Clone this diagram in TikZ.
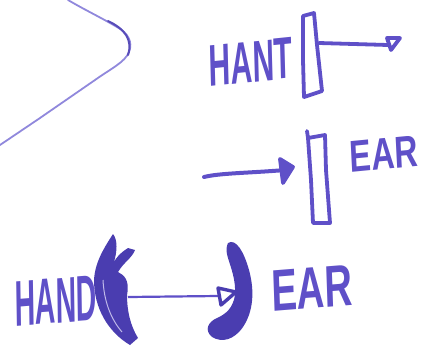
\documentclass[tikz,border=0pt]{standalone}
\usepackage{fontspec}
\setmainfont{Liberation Sans}
\definecolor{ink}{HTML}{5F50C8}
\definecolor{darkink}{HTML}{4A3DB0}
\definecolor{thinink}{HTML}{9088DC}
\tikzset{
  pen/.style={draw=ink,line width=3.8pt,line cap=round,line join=round},
  blob/.style={draw=darkink,fill=darkink,line width=2pt,line join=round,line cap=round},
  hand/.style={text=ink,inner sep=0pt,font=\fontsize{60}{60}\selectfont\bfseries}
}
\begin{document}
\begin{tikzpicture}[x=1pt,y=-1pt]
\useasboundingbox (0,0) rectangle (442,349);
% large thin curve
\draw[thinink,line width=1.8pt,line cap=round] (68,0) .. controls (85,10) and (100,17) .. (117,27)
  .. controls (128,33) and (133,42) .. (129,52) .. controls (125,62) and (112,68) .. (95,80)
  -- (40,118) -- (0,145);
\draw[darkink!80!thinink,line width=2pt,line cap=round] (108,21) .. controls (125,29) and (133,40) .. (128,55);
% top: HANT with rectangle and arrow
\node[hand,xscale=.5,yscale=.98,rotate=3] (hant) at (251,62) {HANT};
\draw[pen] (303,16) -- (314,13) -- (317,45) -- (322,91) -- (304,97) -- (303,60) -- cycle;
\coordinate (a1s) at (319,43);
\coordinate (a1e) at (388,45);
\draw[pen] (a1s) -- (a1e);
\coordinate (h1a) at (387,38); \coordinate (h1b) at (400,38); \coordinate (h1c) at (391,50);
\draw[pen,fill=white] (h1a) -- (h1b) -- (h1c) -- cycle;
% middle
\coordinate (a2s) at (204,177);
\coordinate (a2e) at (285,170);
\draw[draw=ink,line width=4pt,line cap=round] (a2s) .. controls (220,173) and (250,173) .. (a2e);
\coordinate (h2a) at (280,159); \coordinate (h2b) at (293,167); \coordinate (h2c) at (283,183);
\draw[pen,fill=ink] (h2a) -- (h2b) -- (h2c) -- cycle;
\draw[pen] (307,131) -- (308,138) -- (325,135) -- (326,170) -- (330,223) -- (313,223) -- (311,180) -- (308,138);
\node[hand,font=\fontsize{52}{52}\selectfont\bfseries,xscale=.62,yscale=.86,rotate=4] (ear1) at (384,154) {EAR};
% bottom: HAND
\node[hand,font=\fontsize{66}{66}\selectfont\bfseries,xscale=.43,yscale=.98,rotate=2] (handl) at (56,301) {HAND};
\fill[darkink] (113,234) .. controls (104,248) and (95,262) .. (94,280)
  .. controls (94,308) and (108,332) .. (130,345) -- (138,338)
  .. controls (130,325) and (127,310) .. (127,295)
  .. controls (130,280) and (124,275) .. (118,272)
  .. controls (124,262) and (132,258) .. (135,250) -- (128,248)
  .. controls (120,253) and (116,258) .. (114,262)
  .. controls (117,252) and (118,240) .. (113,234) -- cycle;
\draw[white!60!ink,line width=1pt] (103,280) .. controls (104,300) and (110,318) .. (122,332);
\coordinate (a3s) at (128,297);
\coordinate (a3e) at (218,296);
\draw[draw=ink,line width=2.2pt] (a3s) -- (a3e);
\coordinate (h3a) at (218,288); \coordinate (h3b) at (236,292); \coordinate (h3c) at (221,305);
\draw[draw=darkink,line width=3.4pt,line join=round,fill=white] (h3a) -- (h3b) -- (h3c) -- cycle;
% ear blob
\fill[darkink] (228,243) .. controls (236,238) and (244,252) .. (249,270)
  .. controls (255,292) and (253,312) .. (243,327)
  .. controls (234,340) and (222,343) .. (212,337)
  .. controls (204,330) and (208,322) .. (217,318)
  .. controls (226,314) and (233,308) .. (235,295)
  .. controls (236,280) and (231,268) .. (228,258)
  .. controls (226,252) and (226,247) .. (228,243) -- cycle;
\node[hand,font=\fontsize{60}{60}\selectfont\bfseries,xscale=.64,yscale=.98,rotate=3] (ear2) at (312,288) {EAR};
\end{tikzpicture}
\end{document}
